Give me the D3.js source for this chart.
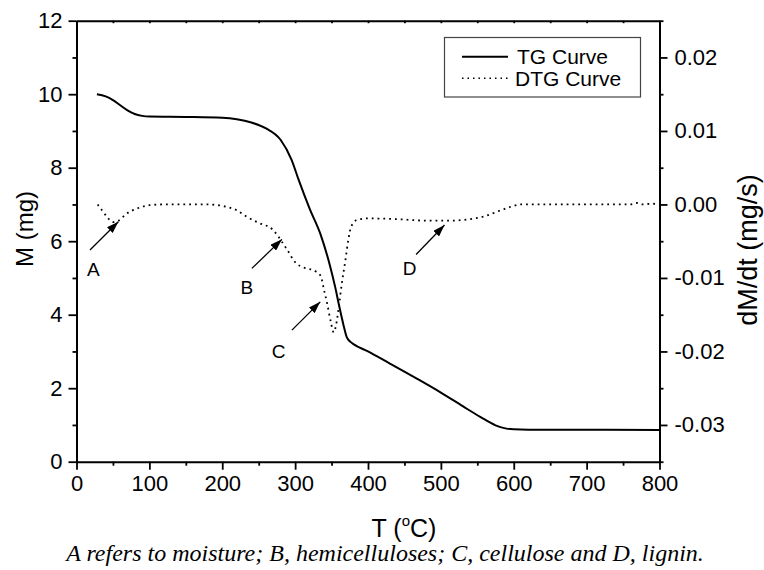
<!DOCTYPE html>
<html>
<head>
<meta charset="utf-8">
<script src="https://cdn.jsdelivr.net/npm/d3@7"></script>
<style>
  html, body { margin: 0; padding: 0; background: #fff; }
  svg { display: block; }
  text { font-family: "Liberation Sans", Arial, sans-serif; fill: #000; }
</style>
</head>
<body>
<svg id="chart" width="764" height="570"></svg>
<script>
// Thermogravimetric run: sample mass (TG) and mass-loss rate (DTG) against temperature
const tgTemp = [28, 40, 50, 60, 70, 80, 90, 100, 150, 200, 220, 240, 260, 280, 295, 305, 320, 335, 348, 355, 360, 366, 371, 376, 380, 400, 430, 467, 500, 530, 554, 575, 590, 600, 620, 700, 800];
const tgMass = [10.00, 9.94, 9.84, 9.70, 9.56, 9.46, 9.41, 9.39, 9.38, 9.36, 9.32, 9.23, 9.07, 8.76, 8.22, 7.66, 6.88, 6.18, 5.32, 4.75, 4.28, 3.75, 3.38, 3.26, 3.20, 3.00, 2.67, 2.26, 1.88, 1.51, 1.22, 0.99, 0.90, 0.88, 0.87, 0.87, 0.86];

const dtgTemp = [29, 35, 42, 50, 58, 68, 82, 100, 120, 180, 200, 220, 234, 250, 270, 282, 290, 298, 307, 316, 328, 335, 340, 344, 349, 353, 356, 360, 364, 369, 373, 377, 385, 400, 440, 480, 513, 540, 560, 582, 600, 610, 700, 760, 769, 775, 790, 800];
const dtgRate = [0.0000, -0.0008, -0.0017, -0.0024, -0.0022, -0.0013, -0.0006, -0.0001, 0.0000, 0.0000, -0.0002, -0.0008, -0.0017, -0.0025, -0.0035, -0.0051, -0.0063, -0.0076, -0.0084, -0.0087, -0.0091, -0.0097, -0.0118, -0.0135, -0.0160, -0.0174, -0.0165, -0.0139, -0.0108, -0.0076, -0.0048, -0.0030, -0.0021, -0.0019, -0.0020, -0.0022, -0.0022, -0.0020, -0.0016, -0.0008, -0.0002, 0.0000, 0.0000, 0.0000, 0.0002, 0.0000, 0.0001, 0.0000];

// Tick values for the three labelled axes
const xTicks = [0, 100, 200, 300, 400, 500, 600, 700, 800];
const xMinorTicks = [50, 150, 250, 350, 450, 550, 650, 750];
const massTicks = [0, 2, 4, 6, 8, 10, 12];
const massMinorTicks = [1, 3, 5, 7, 9, 11];
const rateTicks = [-0.03, -0.02, -0.01, 0.00, 0.01, 0.02];
const rateMinorTicks = [-0.035, -0.025, -0.015, -0.005, 0.005, 0.015, 0.025];

// Decomposition stages marked on the DTG curve (T in °C, M in mg)
const stageLabels = ["A", "B", "C", "D"];
const stageTail = [[18.5, 5.76], [240.7, 5.26], [295.6, 3.58], [466, 5.64]];
const stageHead = [[57.4, 6.53], [281.9, 6.05], [334.5, 4.35], [505, 6.44]];
const stageText = [[23, 5.22], [233.8, 4.75], [277.2, 2.99], [457, 5.26]];

const seriesNames = ["TG Curve", "DTG Curve"];
const caption = "A refers to moisture; B, hemicelluloses; C, cellulose and D, lignin.";

const svg = d3.select("#chart");
const plotLeft = 76.5, plotRight = 659.5, plotTop = 20.7, plotBottom = 461.7;

const x = d3.scaleLinear().domain([0, 800]).range([plotLeft, plotRight]);
const yM = d3.scaleLinear().domain([0, 12]).range([plotBottom, plotTop]);
const yR = d3.scaleLinear().domain([-0.035, 0.025]).range([plotBottom, plotTop]);

svg.append("rect").attr("width", 764).attr("height", 570).attr("fill", "#fff");

const defs = svg.append("defs");
defs.append("marker")
  .attr("id", "arrowhead")
  .attr("markerUnits", "userSpaceOnUse")
  .attr("viewBox", "0 0 12 8")
  .attr("refX", 12).attr("refY", 4)
  .attr("markerWidth", 12).attr("markerHeight", 8)
  .attr("orient", "auto")
  .append("path").attr("d", "M0,0 L12,4 L0,8 Z").attr("fill", "#000");

// Curves
const tgLine = d3.line()
  .x(i => x(tgTemp[i])).y(i => yM(tgMass[i]))
  .curve(d3.curveMonotoneX);
svg.append("path")
  .attr("d", tgLine(d3.range(tgTemp.length)))
  .attr("fill", "none").attr("stroke", "#000").attr("stroke-width", 2);

const dtgLine = d3.line()
  .x(i => x(dtgTemp[i])).y(i => yR(dtgRate[i]))
  .curve(d3.curveMonotoneX);
svg.append("path")
  .attr("d", dtgLine(d3.range(dtgTemp.length)))
  .attr("fill", "none").attr("stroke", "#000").attr("stroke-width", 1.8)
  .attr("stroke-dasharray", "1.8 4");

// Axes
function styleAxis(g) {
  g.select(".domain").attr("stroke-width", 2);
  g.selectAll(".tick line").attr("stroke-width", 1.8);
  g.selectAll(".tick text").style("font-family", "Liberation Sans, Arial, sans-serif").attr("font-size", 22).attr("fill", "#000");
}
const fmtRate = d => d3.format(".2f")(d).replace("\u2212", "-");

svg.append("g").attr("transform", `translate(0,${plotBottom})`)
  .call(d3.axisBottom(x).tickValues(xMinorTicks).tickSize(4).tickFormat("").tickSizeOuter(0))
  .call(g => g.select(".domain").remove())
  .call(styleAxis);
svg.append("g").attr("transform", `translate(0,${plotBottom})`)
  .call(d3.axisBottom(x).tickValues(xTicks).tickSize(8).tickPadding(6).tickSizeOuter(0))
  .call(styleAxis);

svg.append("g").attr("transform", `translate(0,${plotTop})`)
  .call(d3.axisTop(x).tickValues(xTicks.concat(xMinorTicks)).tickSize(-2.5).tickFormat("").tickSizeOuter(0))
  .call(styleAxis);

svg.append("g").attr("transform", `translate(${plotLeft},0)`)
  .call(d3.axisLeft(yM).tickValues(massMinorTicks).tickSize(4).tickFormat("").tickSizeOuter(0))
  .call(g => g.select(".domain").remove())
  .call(styleAxis);
svg.append("g").attr("transform", `translate(${plotLeft},0)`)
  .call(d3.axisLeft(yM).tickValues(massTicks).tickSize(8).tickPadding(6).tickSizeOuter(0))
  .call(styleAxis);

svg.append("g").attr("transform", `translate(${plotRight},0)`)
  .call(d3.axisRight(yR).tickValues(rateMinorTicks).tickSize(4).tickFormat("").tickSizeOuter(0))
  .call(g => g.select(".domain").remove())
  .call(styleAxis);
svg.append("g").attr("transform", `translate(${plotRight},0)`)
  .call(d3.axisRight(yR).tickValues(rateTicks).tickSize(8).tickPadding(7).tickFormat(fmtRate).tickSizeOuter(0))
  .call(styleAxis);

// Axis titles
const xTitle = svg.append("text")
  .attr("x", 404).attr("y", 537)
  .attr("text-anchor", "middle").attr("font-size", 25);
xTitle.append("tspan").text("T (");
xTitle.append("tspan").attr("font-size", 15).attr("dy", -11).text("o");
xTitle.append("tspan").attr("dy", 11).text("C)");

svg.append("text")
  .attr("transform", `translate(33,229) rotate(-90)`)
  .attr("text-anchor", "middle").attr("font-size", 24)
  .text("M (mg)");

svg.append("text")
  .attr("transform", `translate(757,250) rotate(-90)`)
  .attr("text-anchor", "middle").attr("font-size", 27)
  .text("dM/dt (mg/s)");

// Stage annotations
stageLabels.forEach((lab, i) => {
  svg.append("line")
    .attr("x1", x(stageTail[i][0])).attr("y1", yM(stageTail[i][1]))
    .attr("x2", x(stageHead[i][0])).attr("y2", yM(stageHead[i][1]))
    .attr("stroke", "#000").attr("stroke-width", 1.3)
    .attr("marker-end", "url(#arrowhead)");
  svg.append("text")
    .attr("x", x(stageText[i][0])).attr("y", yM(stageText[i][1]))
    .attr("text-anchor", "middle").attr("dominant-baseline", "central")
    .attr("font-size", 19).text(lab);
});

// Legend
const legend = svg.append("g");
legend.append("rect")
  .attr("x", 444.5).attr("y", 37.5).attr("width", 196).attr("height", 59.5)
  .attr("fill", "#fff").attr("stroke", "#444").attr("stroke-width", 1.2);
const legendRowY = [56.7, 78.3];
legend.append("line").attr("x1", 462).attr("x2", 508).attr("y1", legendRowY[0]).attr("y2", legendRowY[0])
  .attr("stroke", "#000").attr("stroke-width", 2);
legend.append("line").attr("x1", 462).attr("x2", 508).attr("y1", legendRowY[1]).attr("y2", legendRowY[1])
  .attr("stroke", "#000").attr("stroke-width", 1.5).attr("stroke-dasharray", "1.5 4");
seriesNames.forEach((name, i) => {
  legend.append("text")
    .attr("x", i === 0 ? 517 : 515).attr("y", legendRowY[i])
    .attr("dominant-baseline", "central").attr("font-size", 21)
    .text(name);
});

// Caption
svg.append("text")
  .attr("x", 385).attr("y", 561)
  .attr("text-anchor", "middle")
  .style("font-family", "Liberation Serif, 'Times New Roman', serif")
  .style("font-style", "italic")
  .attr("font-size", 24)
  .text(caption);
</script>
</body>
</html>
